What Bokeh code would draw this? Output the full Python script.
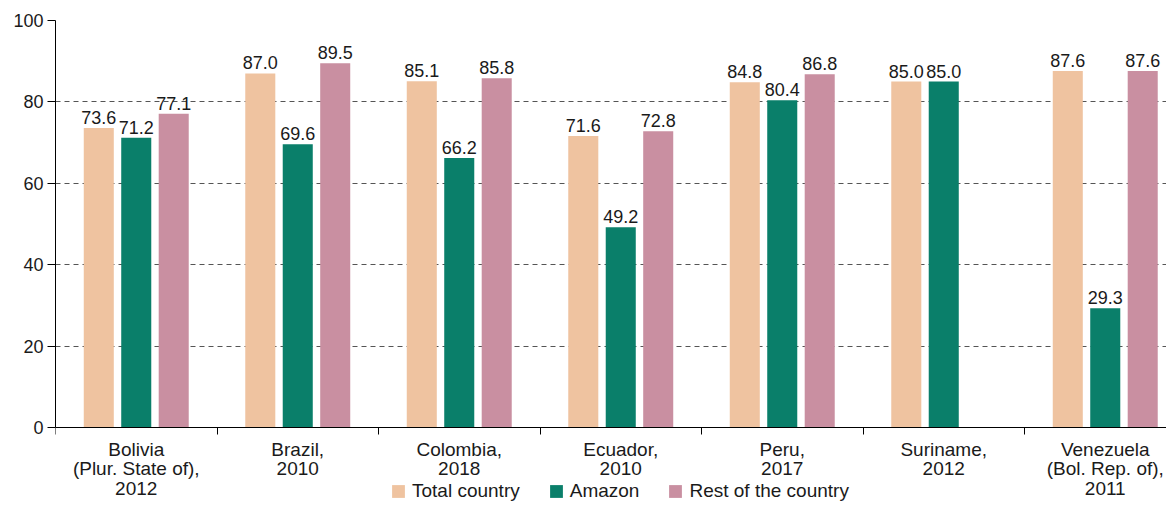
from bokeh.plotting import figure
from bokeh.models import (ColumnDataSource, Range1d, FixedTicker, Legend, LegendItem)
from bokeh.core.properties import value
from bokeh.transform import dodge
from bokeh.embed import file_html
from bokeh.resources import INLINE

categories = ["Bolivia\n(Plur. State of),\n2012", "Brazil,\n2010", "Colombia,\n2018",
              "Ecuador,\n2010", "Peru,\n2017", "Suriname,\n2012",
              "Venezuela\n(Bol. Rep. of),\n2011"]
total = [73.6, 87.0, 85.1, 71.6, 84.8, 85.0, 87.6]
amazon = [71.2, 69.6, 66.2, 49.2, 80.4, 85.0, 29.3]
rest = [77.1, 89.5, 85.8, 72.8, 86.8, None, 87.6]
series_names = ["Total country", "Amazon", "Rest of the country"]
colors = ["#EFC3A0", "#0A7F6A", "#C98FA1"]
y_ticks = [0, 20, 40, 60, 80, 100]

FONT = "Liberation Sans"
FS = "18px"
FS_CAT = "19px"
TXT = "#1a1a1a"

W, H = 1166, 502
TOP, LEFT = 20, 55
ZERO_PX = 427          # screen y of value 0
GROUP_PX = 161.5       # width of one country group in pixels
px_per_unit = (ZERO_PX - TOP) / 100.0
y_min = -(H - ZERO_PX) / px_per_unit
x_max = (W - LEFT) / GROUP_PX

p = figure(width=W, height=H, output_backend="svg", toolbar_location=None,
           x_range=Range1d(0, x_max), y_range=Range1d(y_min, 100),
           min_border_left=LEFT, min_border_right=0, min_border_top=TOP,
           min_border_bottom=0)
p.outline_line_color = None
p.background_fill_color = "white"

offsets = [-0.232, 0.0, 0.232]
width = 0.186
renderers = []
for vals, off, col in zip([total, amazon, rest], offsets, colors):
    xs = [i + 0.5 for i, v in enumerate(vals) if v is not None]
    ys = [v for v in vals if v is not None]
    src = ColumnDataSource(dict(x=xs, top=ys, lab=[f"{v:.1f}" for v in ys]))
    r = p.vbar(x=dodge("x", off, range=p.x_range), top="top", width=width, bottom=0,
               source=src, fill_color=col, line_color=None)
    renderers.append(r)
    p.text(x=dodge("x", off, range=p.x_range), y="top", text="lab", source=src,
           text_align="center", text_baseline="bottom", y_offset=-4,
           text_font=value(FONT), text_font_size=FS, text_color=TXT)

# y axis
p.yaxis.ticker = FixedTicker(ticks=y_ticks)
p.yaxis.bounds = (0, 100)
p.yaxis.axis_line_color = "black"
p.yaxis.major_tick_out = 8
p.yaxis.major_tick_in = 0
p.yaxis.minor_tick_out = 0
p.yaxis.minor_tick_in = 0
p.yaxis.major_label_standoff = 4
p.yaxis.major_label_text_font = FONT
p.yaxis.major_label_text_font_size = FS
p.yaxis.major_label_text_color = TXT

# x axis drawn at value 0
centers = [i + 0.5 for i in range(len(categories))]
p.xaxis.fixed_location = 0
p.xaxis.ticker = FixedTicker(ticks=centers, minor_ticks=list(range(len(categories))))
p.xaxis.major_label_overrides = {c: lab for c, lab in zip(centers, categories)}
p.xaxis.axis_line_color = "black"
p.xaxis.major_tick_out = 0
p.xaxis.major_tick_in = 0
p.xaxis.minor_tick_out = 7
p.xaxis.minor_tick_in = 0
p.xaxis.major_label_standoff = 4
p.xaxis.major_label_text_font = FONT
p.xaxis.major_label_text_font_size = FS_CAT
p.xaxis.major_label_text_color = TXT
p.xaxis.major_label_text_line_height = 0.93

p.xgrid.grid_line_color = None
p.ygrid.grid_line_color = "#555555"
p.ygrid.grid_line_dash = "5 4"
p.ygrid.grid_line_width = 1
p.ygrid.bounds = (20, 100)

legend = Legend(items=[LegendItem(label=n, renderers=[r]) for n, r in zip(series_names, renderers)],
                orientation="horizontal", location=(335, 0),
                glyph_width=16, glyph_height=16, label_standoff=6, spacing=28,
                padding=0, margin=0, label_text_font=FONT, label_text_font_size=FS_CAT,
                label_text_color=TXT, border_line_color=None, background_fill_alpha=0,
                label_height=16)
p.add_layout(legend, "center")

open("out.html", "w").write(file_html(p, INLINE))
